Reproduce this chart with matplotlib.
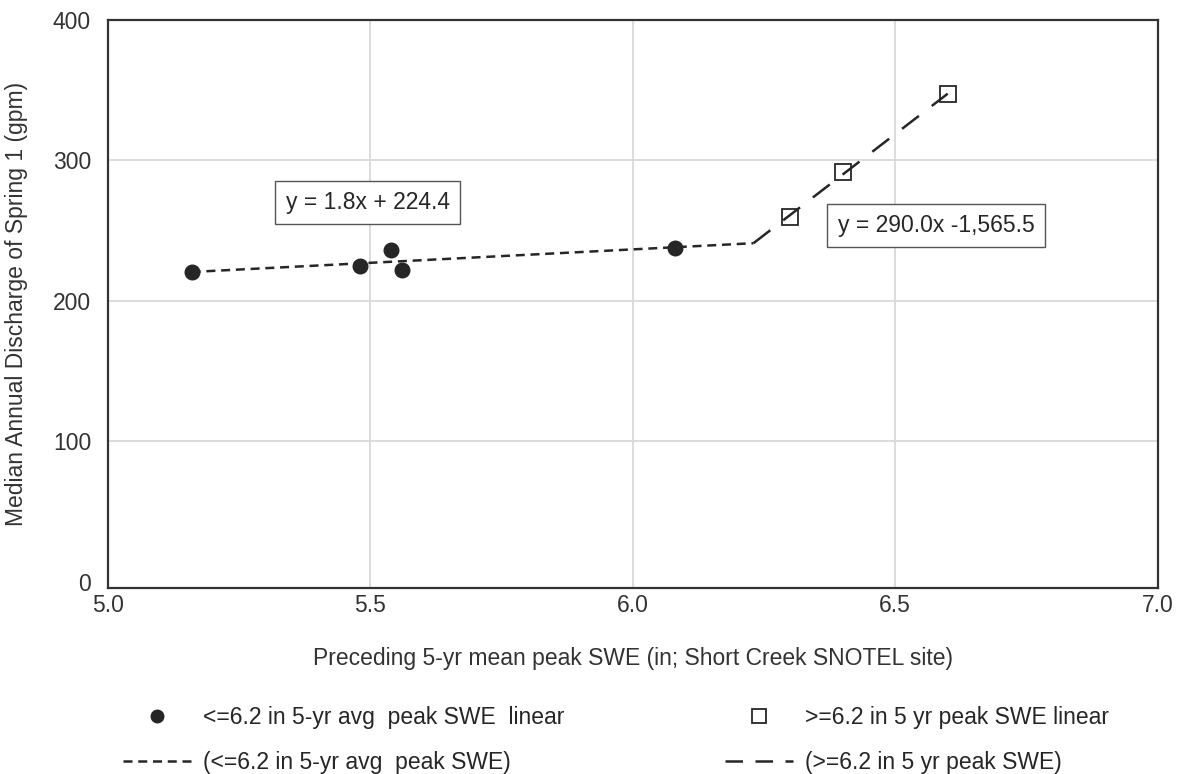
import matplotlib
matplotlib.use("Agg")
import matplotlib.pyplot as plt
from matplotlib.lines import Line2D

plt.rcParams["font.family"] = ["Liberation Sans", "DejaVu Sans"]

# Spring 1 median annual discharge vs preceding 5-yr mean peak SWE
low_swe = [5.16, 5.48, 5.54, 5.56, 6.08]
low_flow = [220.5, 224.6, 235.9, 221.7, 237.9]

high_swe = [6.30, 6.40, 6.60]
high_flow = [260.0, 292.0, 347.5]

# trend segments (below / above the 6.2 in break)
low_trend_x = [5.16, 6.23]
low_trend_y = [220.5, 241.0]
high_trend_x = [6.23, 6.60]
high_trend_y = [241.0, 347.5]

low_eq = "y = 1.8x + 224.4"
high_eq = "y = 290.0x -1,565.5"

low_label = "<=6.2 in 5-yr avg  peak SWE  linear"
high_label = ">=6.2 in 5 yr peak SWE linear"
low_trend_label = "(<=6.2 in 5-yr avg  peak SWE)"
high_trend_label = "(>=6.2 in 5 yr peak SWE)"

x_ticks = [5.0, 5.5, 6.0, 6.5, 7.0]
y_ticks = [0, 100, 200, 300, 400]

ink = "#262626"
fs = 16.5
short_dash = (0, (3.6, 2.3))
long_dash = (0, (8.5, 6.5))

fig = plt.figure(figsize=(11.78, 7.74), dpi=100)
ax = fig.add_axes([0.0914, 0.2403, 0.8914, 0.7339])

ax.plot(low_trend_x, low_trend_y, color=ink, lw=1.8, linestyle=short_dash, zorder=2)
ax.plot(high_trend_x, high_trend_y, color=ink, lw=1.8, linestyle=long_dash, zorder=2)
ax.plot(low_swe, low_flow, "o", color=ink, ms=10.5, zorder=3)
ax.plot(high_swe, high_flow, "s", mfc="none", mec=ink, mew=1.3, ms=11, zorder=3)

ax.set_xlim(5.0, 7.0)
ax.set_ylim(-4.6, 400)
ax.set_xticks(x_ticks)
ax.set_xticklabels([f"{v:.1f}" for v in x_ticks])
ax.set_yticks(y_ticks)
ax.tick_params(length=0, labelsize=fs, colors="#333333")
ax.tick_params(axis="x", pad=4)
ax.tick_params(axis="y", pad=12)
ax.grid(True, color="#d9d9d9", lw=1.3, zorder=0)
ax.yaxis.get_gridlines()[0].set_visible(False)
ax.set_axisbelow(True)
for sp in ax.spines.values():
    sp.set_color("#333333")
    sp.set_linewidth(1.6)

ax.set_xlabel("Preceding 5-yr mean peak SWE (in; Short Creek SNOTEL site)",
              fontsize=fs, color="#333333", labelpad=22)
ax.set_ylabel("Median Annual Discharge of Spring 1 (gpm)",
              fontsize=fs, color="#333333", labelpad=18)

box = dict(boxstyle="square,pad=0.45", fc="white", ec="#555555", lw=1.0)
ax.text(5.495, 270, low_eq, fontsize=fs, color=ink, ha="center", va="center", bbox=box)
ax.text(6.578, 253.7, high_eq, fontsize=fs, color=ink, ha="center", va="center", bbox=box)

handles = [
    Line2D([], [], marker="o", ls="none", color=ink, ms=9),
    Line2D([], [], color=ink, lw=1.8, linestyle=short_dash),
    Line2D([], [], marker="s", ls="none", mfc="none", mec=ink, mew=1.3, ms=10),
    Line2D([], [], color=ink, lw=1.8, linestyle=(0, (7, 5))),
]
labels = [low_label, low_trend_label, high_label, high_trend_label]
fig.legend(handles, labels, ncol=2, loc="upper left",
           bbox_to_anchor=(0.0866, 0.1145), frameon=False,
           fontsize=fs, labelcolor=ink, handlelength=3.0, handletextpad=0.5,
           columnspacing=7.0, labelspacing=0.95)

fig.savefig("out.png", dpi=100)
